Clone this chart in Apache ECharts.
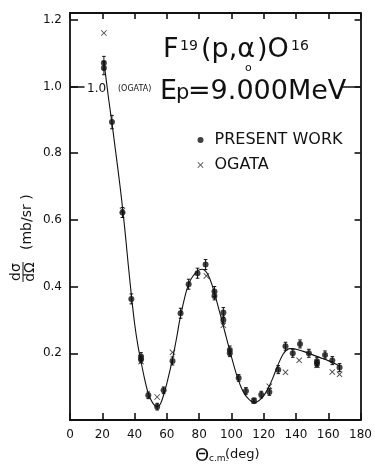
<!DOCTYPE html>
<html>
<head>
<meta charset="utf-8">
<script src="https://cdn.jsdelivr.net/npm/echarts@6/dist/echarts.min.js"></script>
<style>
html,body{margin:0;padding:0;background:#fff;}
#chart{width:375px;height:465px;}
</style>
</head>
<body>
<div id="chart"></div>
<script>
// ---- data ----
var xTicks = [0, 20, 40, 60, 80, 100, 120, 140, 160, 180];
var yTicks = ['0.2', '0.4', '0.6', '0.8', '1.0', '1.2'];

// Present work: c.m. angle (deg), cross section (mb/sr), error
var presentAngle = [21, 21, 26, 32.5, 38, 44, 44, 48.5, 54, 58, 63.5, 68.5, 73.5, 79, 84, 89.5, 89.5, 95, 95, 99, 99, 104.5, 109, 114, 118.5, 123.5, 129, 133.5, 138, 142.5, 148, 153, 153, 158, 162.5, 167];
var presentValue = [1.07, 1.055, 0.893, 0.622, 0.363, 0.19, 0.181, 0.074, 0.04, 0.089, 0.177, 0.32, 0.407, 0.44, 0.466, 0.385, 0.372, 0.322, 0.3, 0.21, 0.2, 0.126, 0.087, 0.058, 0.076, 0.084, 0.151, 0.221, 0.2, 0.228, 0.2, 0.176, 0.168, 0.195, 0.178, 0.157];
var presentError = [0.02, 0.02, 0.02, 0.015, 0.015, 0.012, 0.01, 0.01, 0.01, 0.01, 0.012, 0.015, 0.015, 0.015, 0.015, 0.015, 0.012, 0.015, 0.012, 0.012, 0.01, 0.01, 0.01, 0.008, 0.01, 0.01, 0.012, 0.012, 0.012, 0.012, 0.012, 0.012, 0.01, 0.012, 0.012, 0.012];

// Ogata
var ogataAngle = [21, 32.5, 44, 54, 63.5, 84.5, 95, 114, 123.5, 133.5, 142, 153, 162.5, 167];
var ogataValue = [1.16, 0.628, 0.175, 0.069, 0.203, 0.432, 0.284, 0.058, 0.101, 0.143, 0.179, 0.164, 0.144, 0.137];

// Fitted curve
var curveAngle = [21, 24, 26, 28, 30, 32, 34, 36, 38, 40, 42, 44, 46, 48, 50, 52, 54, 56, 58, 60, 62, 64, 66, 68, 70, 72, 74, 76, 78, 80, 82, 84, 86, 88, 90, 92, 94, 96, 98, 100, 102, 104, 106, 108, 110, 112, 114, 116, 118, 120, 122, 124, 126, 128, 130, 132, 134, 136, 138, 140, 145, 150, 155, 160, 165, 167];
var curveValue = [1.075, 0.96, 0.89, 0.815, 0.74, 0.66, 0.57, 0.47, 0.375, 0.29, 0.225, 0.175, 0.128, 0.088, 0.062, 0.046, 0.04, 0.048, 0.075, 0.11, 0.15, 0.195, 0.245, 0.3, 0.345, 0.385, 0.413, 0.43, 0.442, 0.45, 0.452, 0.446, 0.43, 0.405, 0.372, 0.336, 0.3, 0.263, 0.226, 0.19, 0.155, 0.124, 0.098, 0.079, 0.066, 0.057, 0.053, 0.055, 0.062, 0.073, 0.088, 0.107, 0.13, 0.155, 0.178, 0.197, 0.209, 0.214, 0.214, 0.212, 0.205, 0.196, 0.187, 0.178, 0.167, 0.162];

// ---- chart ----
var FONT = 'DejaVu Sans';
var INK = '#111';
var X_MIN = 0, X_MAX = 180, Y_MIN = 0, Y_MAX = 1.22;
var xPath = 'path://M0,1L1,0L5,4L9,0L10,1L6,5L10,9L9,10L5,6L1,10L0,9L4,5Z';

function zip(a, b, c) {
  return a.map(function (v, i) { return c ? [v, b[i], c[i]] : [v, b[i]]; });
}

function txt(x, y, text, size, extra) {
  var st = { text: text, font: size + 'px "' + FONT + '"', fill: INK, verticalAlign: 'middle', align: 'left' };
  if (extra) for (var k in extra) st[k] = extra[k];
  return { type: 'text', x: x, y: y, style: st, silent: true };
}

function tick(len) {
  return { show: true, inside: true, length: len, lineStyle: { color: INK, width: 1.6 } };
}
function frameAxis(base, extra) {
  return Object.assign({
    axisLine: { show: true, onZero: false, lineStyle: { color: INK, width: 1.8 } },
    splitLine: { show: false }
  }, base, extra);
}
var xBase = { type: 'value', min: X_MIN, max: X_MAX, interval: 20 };
var yBase = { type: 'value', min: Y_MIN, max: Y_MAX, interval: 0.2 };

var chart = echarts.init(document.getElementById('chart'), null, { renderer: 'canvas' });

var option = {
  backgroundColor: '#fff',
  animation: false,
  grid: { left: 70, right: 8, top: 13, bottom: 45 },
  xAxis: [
    frameAxis(xBase, {
      position: 'bottom', axisTick: tick(7),
      axisLabel: { margin: 9, fontSize: 12, color: INK, fontFamily: FONT,
        formatter: function (v) { return xTicks.indexOf(v) >= 0 ? String(v) : ''; } }
    }),
    frameAxis(xBase, { position: 'top', axisTick: tick(6), axisLabel: { show: false } })
  ],
  yAxis: [
    frameAxis(yBase, {
      position: 'left', axisTick: tick(8),
      axisLabel: { margin: 8, fontSize: 12, color: INK, fontFamily: FONT, showMinLabel: false, showMaxLabel: false,
        formatter: function (v) { var s = v.toFixed(1); return yTicks.indexOf(s) >= 0 ? s : ''; } }
    }),
    frameAxis(yBase, { position: 'right', axisTick: tick(6), axisLabel: { show: false } })
  ],
  legend: {
    orient: 'vertical', left: 192.5, top: 126,
    itemWidth: 18, itemHeight: 6, itemGap: 7,
    textStyle: { fontSize: 16, fontFamily: FONT, color: INK, lineHeight: 18 },
    data: [
      { name: 'PRESENT WORK', icon: 'circle' },
      { name: 'OGATA', icon: xPath }
    ]
  },
  series: [
    {
      name: 'curve', type: 'line', data: zip(curveAngle, curveValue),
      showSymbol: false, symbol: 'none', smooth: 0.3,
      lineStyle: { color: INK, width: 1.1 }, silent: true, z: 2,
      markLine: {
        silent: true, symbol: 'none', label: { show: false },
        lineStyle: { color: INK, width: 1.5, type: 'solid' },
        data: [
          [{ coord: [0, 1.0] }, { coord: [9, 1.0] }],
          [{ coord: [168, 1.0] }, { coord: [180, 1.0] }]
        ]
      }
    },
    {
      name: 'errors', type: 'custom', data: zip(presentAngle, presentValue, presentError), z: 3, silent: true,
      renderItem: function (params, api) {
        var x = api.value(0), y = api.value(1), e = api.value(2);
        var t = api.coord([x, y + e]), b = api.coord([x, y - e]);
        var hw = 1.8, s = { stroke: INK, lineWidth: 1 };
        return { type: 'group', children: [
          { type: 'line', shape: { x1: t[0], y1: t[1], x2: b[0], y2: b[1] }, style: s },
          { type: 'line', shape: { x1: t[0] - hw, y1: t[1], x2: t[0] + hw, y2: t[1] }, style: s },
          { type: 'line', shape: { x1: b[0] - hw, y1: b[1], x2: b[0] + hw, y2: b[1] }, style: s }
        ] };
      }
    },
    {
      name: 'PRESENT WORK', type: 'scatter', data: zip(presentAngle, presentValue),
      symbol: 'circle', symbolSize: 6, itemStyle: { color: INK }, z: 4
    },
    {
      name: 'OGATA', type: 'scatter', data: zip(ogataAngle, ogataValue),
      symbol: xPath, symbolSize: 6, itemStyle: { color: INK }, z: 4
    }
  ],
  graphic: [
    // title line 1: F19 (p,α0)O16
    txt(163, 50, 'F', 27),
    txt(180, 46, '19', 14),
    txt(201, 50, '(p,α', 27),
    txt(245, 68, 'o', 11),
    txt(257, 50, ')O', 27),
    txt(291, 46, '16', 14),
    // title line 2: Ep=9.000MeV
    txt(160, 92, 'E', 27),
    txt(176, 94, 'p', 21),
    txt(188, 92, '=9.000MeV', 27),
    // annotation
    txt(87, 89, '1.0', 12),
    txt(118, 89, '(OGATA)', 8),
    // x axis title
    txt(195, 456, 'Θ', 18),
    txt(209, 459, 'c.m.', 9),
    txt(225, 455, '(deg)', 13),
    // y axis title (rotated)
    {
      type: 'group', x: 23, y: 272, rotation: Math.PI / 2, silent: true,
      children: [
        txt(0, -7, 'dσ', 14, { align: 'center' }),
        { type: 'line', shape: { x1: -10, y1: 0, x2: 10, y2: 0 }, style: { stroke: INK, lineWidth: 1 } },
        txt(0, 7, 'dΩ', 14, { align: 'center' }),
        txt(22, 4, '(mb/sr )', 14, { align: 'left' })
      ]
    }
  ]
};
chart.setOption(option);
</script>
</body>
</html>
